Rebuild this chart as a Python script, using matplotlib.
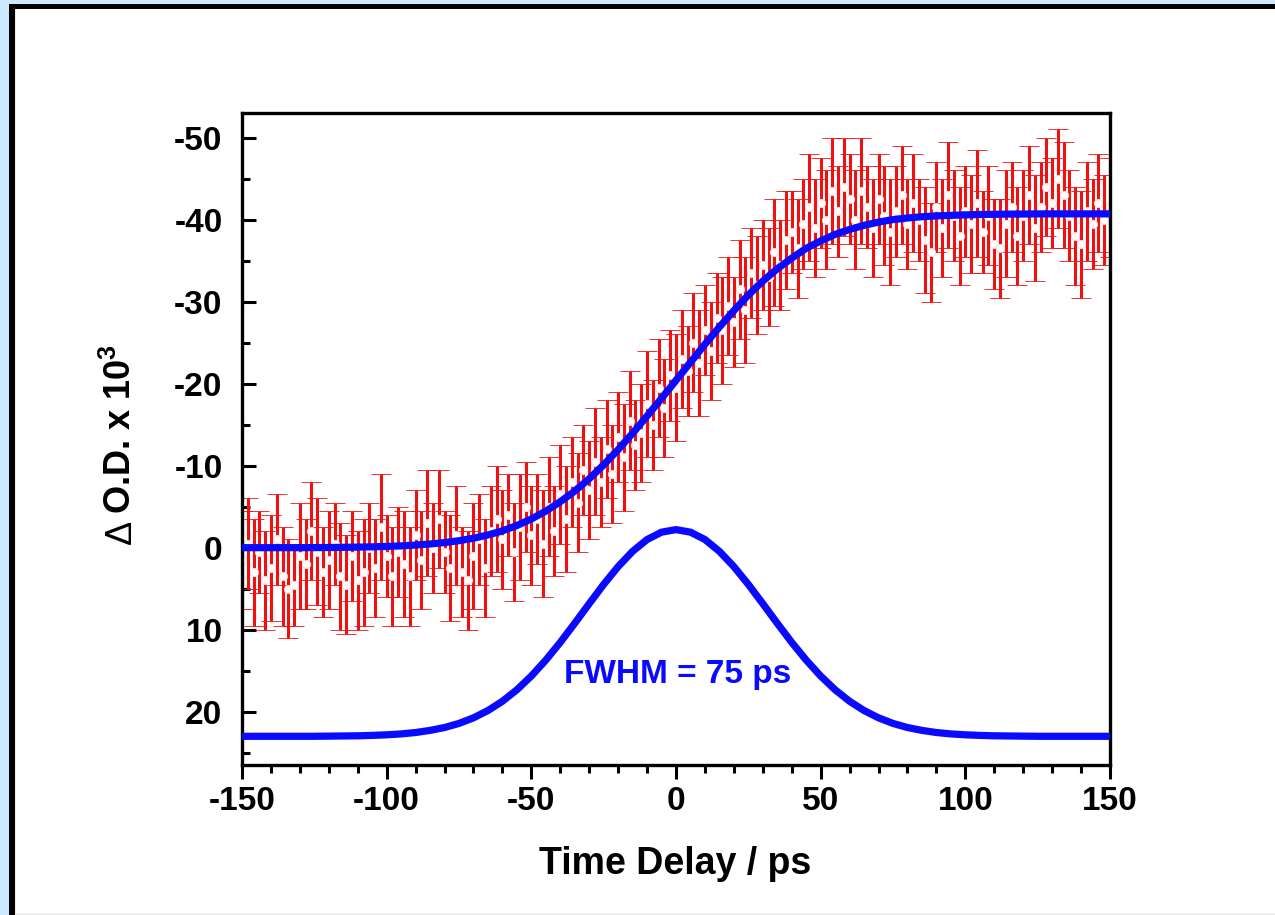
import numpy as np
import matplotlib.pyplot as plt
from matplotlib.patches import Rectangle
from matplotlib.ticker import MultipleLocator

plt.rcParams['font.family'] = ['Liberation Sans', 'DejaVu Sans']
plt.rcParams['font.weight'] = 'bold'
plt.rcParams['axes.unicode_minus'] = False
plt.rcParams['mathtext.fontset'] = 'custom'
plt.rcParams['mathtext.rm'] = 'Liberation Sans:bold'
plt.rcParams['mathtext.bf'] = 'Liberation Sans:bold'

# ---- measured transient (time step 2 ps) ----
t_start, t_step = -150, 2
od_data = [
    1.5, -0.5, 3.0, 0.5, 4.0, 2.5, -1.0, 3.5, 5.0, 4.5,
    1.0, 2.0, -2.0, 0.5, 3.0, 1.5, -0.5, 3.5, 4.5, 1.0,
    4.0, 3.0, 0.0, 2.5, -2.5, 1.0, 3.5, 0.5, 2.0, 3.5,
    -1.5, 1.5, -3.0, 0.0, -3.5, 0.5, 2.5, -1.5, 3.0, 4.0,
    1.0, -1.0, 2.5, -2.0, -3.5, -1.0, -4.0, 0.5, -2.5, -5.0,
    -1.5, -3.5, -0.5, -5.0, -2.0, -6.5, -3.5, -8.0, -5.5, -9.5,
    -7.0, -10.5, -8.0, -12.0, -9.0, -13.5, -11.0, -15.5, -12.5, -14.0,
    -17.5, -15.0, -19.5, -17.0, -21.0, -19.5, -23.0, -21.5, -25.0, -22.5,
    -26.5, -24.0, -28.0, -26.5, -29.5, -27.5, -31.5, -29.0, -33.5, -32.0,
    -34.5, -33.0, -36.0, -34.5, -37.5, -38.5, -36.5, -39.5, -41.5, -39.0,
    -42.0, -40.0, -43.5, -41.0, -44.0, -42.5, -40.0, -43.5, -41.5, -39.0,
    -42.5, -40.5, -38.5, -41.0, -43.0, -39.5, -42.0, -40.0, -37.5, -36.0,
    -41.5, -39.0, -43.0, -40.5, -38.0, -41.0, -39.5, -42.0, -38.5, -40.5,
    -37.0, -36.5, -39.5, -41.5, -38.0, -40.5, -43.0, -39.0, -41.5, -44.0,
    -42.0, -45.0, -43.0, -40.5, -38.0, -37.0, -41.0, -39.5, -42.0, -40.0,
    -41.5,
]
od_err = [
    6.0, 5.5, 6.5, 5.0, 6.0, 6.5, 5.5, 6.0, 6.0, 5.0,
    6.5, 5.5, 6.0, 6.5, 5.5, 6.0, 5.0, 6.5, 6.0, 5.5,
    6.0, 6.5, 5.5, 6.0, 6.5, 5.0, 6.0, 5.5, 6.5, 6.0,
    5.5, 6.0, 6.5, 5.5, 6.0, 5.0, 6.5, 6.0, 5.5, 6.0,
    6.5, 5.5, 6.0, 5.5, 6.5, 6.0, 5.0, 6.0, 6.5, 5.5,
    6.0, 5.5, 6.5, 6.0, 5.5, 6.0, 6.5, 5.5, 6.0, 5.5,
    6.0, 6.5, 5.5, 6.0, 6.0, 5.5, 6.5, 6.0, 5.5, 6.0,
    6.5, 5.5, 6.0, 6.0, 5.5, 6.5, 6.0, 5.5, 6.0, 6.5,
    5.5, 6.0, 5.5, 6.5, 6.0, 5.5, 6.0, 6.5, 5.5, 6.0,
    5.5, 6.0, 6.5, 5.5, 6.0, 5.0, 6.0, 5.5, 6.5, 6.0,
    5.5, 6.0, 6.5, 5.5, 6.0, 5.5, 6.0, 6.5, 5.0, 6.0,
    5.5, 6.0, 6.5, 5.5, 6.0, 5.5, 6.0, 5.0, 6.5, 6.0,
    5.5, 6.0, 6.5, 5.5, 6.0, 5.5, 6.0, 6.5, 5.0, 6.0,
    5.5, 6.0, 6.5, 5.5, 6.0, 5.5, 6.0, 6.5, 5.5, 6.0,
    5.5, 6.0, 6.5, 5.5, 6.0, 6.5, 6.0, 5.5, 6.0, 5.5,
    6.0,
]
t_data = t_start + t_step * np.arange(len(od_data))

# ---- fitted curve and instrument response, read every 5 ps ----
t_curve = np.arange(-150, 151, 5)
fit_curve = [
    0.0, 0.0, 0.0, 0.0, 0.0, -0.01, -0.02, -0.04, -0.07, -0.1,
    -0.15, -0.22, -0.32, -0.45, -0.62, -0.85, -1.15, -1.55, -2.05, -2.7,
    -3.5, -4.45, -5.6, -6.9, -8.4, -10.1, -11.95, -13.95, -16.05, -18.2,
    -20.4, -22.6, -24.8, -26.9, -28.9, -30.8, -32.5, -34.0, -35.3, -36.5,
    -37.4, -38.2, -38.8, -39.3, -39.7, -40.0, -40.2, -40.35, -40.45, -40.52,
    -40.58, -40.62, -40.65, -40.67, -40.68, -40.7, -40.7, -40.7, -40.7, -40.7,
    -40.7,
]
irf_curve = [
    23.0, 23.0, 23.0, 23.0, 23.0, 23.0, 22.98, 22.96, 22.94, 22.89,
    22.82, 22.71, 22.54, 22.28, 21.93, 21.43, 20.75, 19.86, 18.73, 17.33,
    15.65, 13.71, 11.55, 9.22, 6.83, 4.48, 2.31, 0.45, -0.99, -1.89,
    -2.2, -1.89, -0.99, 0.45, 2.31, 4.48, 6.83, 9.22, 11.55, 13.71,
    15.65, 17.33, 18.73, 19.86, 20.75, 21.43, 21.93, 22.28, 22.54, 22.71,
    22.82, 22.89, 22.94, 22.96, 22.98, 23.0, 23.0, 23.0, 23.0, 23.0,
    23.0,
]

fig = plt.figure(figsize=(12.75, 9.15), dpi=100)
fig.patch.set_facecolor('#cde9ff')

# frame: black border open to the right/bottom edges, white inside
W, H = 1275.0, 915.0
fig.patches.append(Rectangle((9 / W, 0), 1, 1 - 3.5 / H, transform=fig.transFigure,
                             facecolor='black', edgecolor='none', zorder=-3))
fig.patches.append(Rectangle((15 / W, 0), 1, 1 - 9 / H, transform=fig.transFigure,
                             facecolor='#eeeeee', edgecolor='none', zorder=-2))
fig.patches.append(Rectangle((16 / W, 2 / H), 1, 1 - 11 / H, transform=fig.transFigure,
                             facecolor='white', edgecolor='none', zorder=-1))

ax = fig.add_axes([242 / W, 1 - 765 / H, 868 / W, 652 / H])
ax.set_facecolor('none')

ax.errorbar(t_data, od_data, yerr=od_err, fmt='o', color='#f01010', ecolor='#f01010',
            elinewidth=2.2, capsize=7, capthick=2.2, markersize=6,
            markerfacecolor='white', markeredgecolor='#f4d4d4', markeredgewidth=0.6, zorder=2)
ax.plot(t_curve, fit_curve, color='#0a0aff', lw=5.2, solid_capstyle='butt', zorder=3)
ax.plot(t_curve, irf_curve, color='#0a0aff', lw=5.2, solid_capstyle='butt', zorder=3)

ax.text(0.4, 15.5, 'FWHM = 75 ps', color='#0a0aff', fontsize=24, fontweight='bold',
        ha='center', va='center')

ax.set_xlim(-150, 150)
ax.set_ylim(26.5, -53)
ax.xaxis.set_major_locator(MultipleLocator(50))
ax.xaxis.set_minor_locator(MultipleLocator(10))
ax.yaxis.set_major_locator(MultipleLocator(10))
ax.yaxis.set_minor_locator(MultipleLocator(5))

for s in ax.spines.values():
    s.set_linewidth(2.4)
ax.tick_params(axis='x', which='both', direction='out', top=False, width=2.2, labelsize=24, pad=5)
ax.tick_params(axis='x', which='major', length=10)
ax.tick_params(axis='x', which='minor', length=5.5)
ax.tick_params(axis='y', which='both', direction='in', right=False, width=2.2, labelsize=24, pad=14)
ax.tick_params(axis='y', which='major', length=10)
ax.tick_params(axis='y', which='minor', length=5.5)
for lab in ax.get_xticklabels() + ax.get_yticklabels():
    lab.set_fontweight('bold')

ax.set_xlabel('Time Delay / ps', fontsize=27, fontweight='bold')
ax.xaxis.set_label_coords(0.499, -0.124)

# y label: bold "O.D. x 10^3" with a thin Delta in front of it
ylab = ax.text(-0.139, 0.385, r'O.D. x 10$^{3}$', transform=ax.transAxes, rotation=90,
               fontsize=26, fontweight='bold', ha='center', va='bottom')
ax.annotate('\u0394', xy=(0.5, 0), xycoords=ylab, xytext=(0, -4), textcoords='offset points',
            rotation=90, fontsize=26, fontweight='normal', ha='center', va='top')

fig.savefig('out.png', dpi=100, facecolor=fig.get_facecolor())
